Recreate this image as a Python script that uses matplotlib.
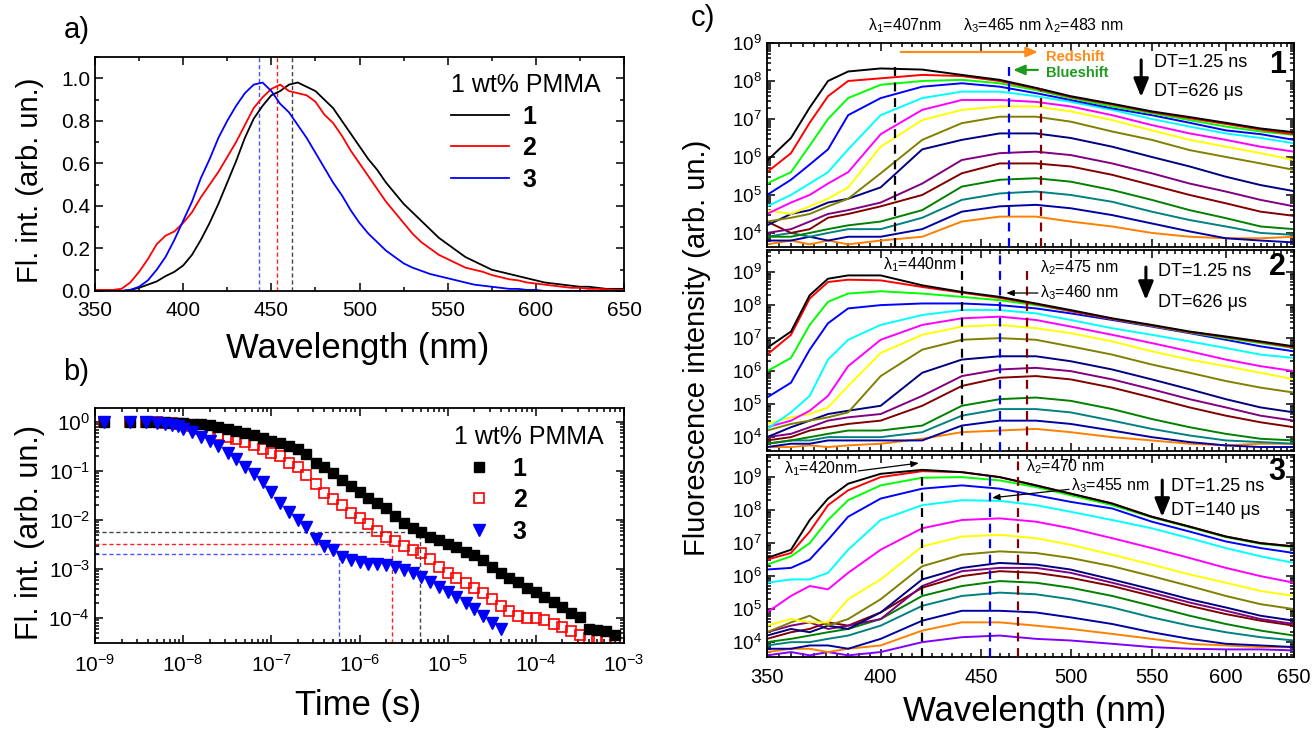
import numpy as np
import matplotlib
matplotlib.use("Agg")
import matplotlib.pyplot as plt
from matplotlib.ticker import (MultipleLocator, FormatStrFormatter, FixedLocator,
                               FixedFormatter, NullFormatter, LogLocator)

plt.rcParams['font.family'] = ['Liberation Sans', 'DejaVu Sans']
plt.rcParams['mathtext.fontset'] = 'custom'
plt.rcParams['mathtext.rm'] = 'Liberation Sans'
plt.rcParams['mathtext.it'] = 'Liberation Sans:italic'
plt.rcParams['mathtext.default'] = 'regular'
plt.rcParams['axes.linewidth'] = 1.3

# ---------------- panel a: steady-state spectra ----------------
wl_a = [350, 355, 360, 365, 370, 375, 380, 385, 390, 395, 400, 405, 410, 415, 420,
        425, 430, 435, 440, 445, 450, 455, 460, 465, 470, 475, 480, 485, 490, 495,
        500, 505, 510, 515, 520, 525, 530, 535, 540, 545, 550, 555, 560, 565, 570,
        575, 580, 585, 590, 595, 600, 605, 610, 615, 620, 625, 630, 635, 640, 645, 650]
fl_1 = [0, 0, 0, 0, 0.005, 0.015, 0.03, 0.045, 0.07, 0.09, 0.12, 0.17, 0.24, 0.32, 0.41,
        0.51, 0.61, 0.72, 0.81, 0.87, 0.92, 0.94, 0.97, 0.98, 0.96, 0.94, 0.90, 0.86, 0.80, 0.74,
        0.68, 0.62, 0.57, 0.51, 0.46, 0.41, 0.37, 0.33, 0.29, 0.25, 0.22, 0.19, 0.16, 0.14, 0.12,
        0.10, 0.09, 0.08, 0.07, 0.06, 0.05, 0.04, 0.035, 0.03, 0.025, 0.02, 0.02, 0.015, 0.01, 0.01, 0.01]
fl_2 = [0.005, 0.005, 0.005, 0.01, 0.04, 0.09, 0.15, 0.22, 0.26, 0.28, 0.32, 0.37, 0.44, 0.50, 0.56,
        0.63, 0.70, 0.78, 0.86, 0.91, 0.95, 0.97, 0.94, 0.93, 0.92, 0.89, 0.83, 0.79, 0.73, 0.66,
        0.60, 0.54, 0.48, 0.42, 0.37, 0.32, 0.27, 0.23, 0.20, 0.17, 0.15, 0.13, 0.11, 0.10, 0.09,
        0.075, 0.065, 0.055, 0.05, 0.04, 0.035, 0.03, 0.025, 0.02, 0.015, 0.015, 0.01, 0.01, 0.008, 0.005, 0.005]
fl_3 = [0, 0, 0, 0, 0.005, 0.02, 0.05, 0.10, 0.16, 0.24, 0.33, 0.42, 0.53, 0.62, 0.72,
        0.80, 0.87, 0.93, 0.97, 0.98, 0.94, 0.88, 0.84, 0.78, 0.72, 0.65, 0.58, 0.51, 0.45, 0.38,
        0.32, 0.27, 0.23, 0.19, 0.16, 0.13, 0.11, 0.095, 0.08, 0.07, 0.06, 0.05, 0.04, 0.03, 0.025,
        0.02, 0.015, 0.01, 0.01, 0.005, 0.005, 0, 0, 0, 0, 0, 0, 0, 0, 0, 0]
peak_a = [462, 453, 443]
colors_a = ['black', 'red', 'blue']
guide_a = ['#444444', '#ff2020', '#5050ff']
labels = ['1', '2', '3']

# ---------------- panel b: decays ----------------
t_b = [1.25e-9, 2.5e-9, 3.75e-9, 5e-9, 6.25e-9, 7.5e-9, 8.75e-9, 1e-8,
       1.25e-8, 1.6e-8, 2e-8, 2.5e-8, 3.2e-8, 4e-8, 5e-8, 6.3e-8, 8e-8, 1e-7,
       1.25e-7, 1.6e-7, 2e-7, 2.5e-7, 3.2e-7, 4e-7, 5e-7, 6.3e-7, 8e-7, 1e-6,
       1.25e-6, 1.6e-6, 2e-6, 2.5e-6, 3.2e-6, 4e-6, 5e-6, 6.3e-6, 8e-6, 1e-5,
       1.25e-5, 1.6e-5, 2e-5, 2.5e-5, 3.2e-5, 4e-5, 5e-5, 6.3e-5, 8e-5, 1e-4,
       1.25e-4, 1.6e-4, 2e-4, 2.5e-4, 3.2e-4, 4e-4, 5e-4, 6.3e-4, 8e-4]
dec_1 = [1.0, 1.0, 1.0, 1.0, 0.99, 0.98, 0.97, 0.96,
         0.93, 0.9, 0.86, 0.8, 0.74, 0.67, 0.6, 0.55, 0.48, 0.42,
         0.38, 0.33, 0.29, 0.22, 0.15, 0.12, 0.09, 0.065, 0.05, 0.037,
         0.028, 0.022, 0.018, 0.012, 0.0088, 0.0068, 0.0058, 0.0045, 0.0039, 0.0032,
         0.0028, 0.0022, 0.0019, 0.0015, 0.0011, 0.00085, 0.00066, 0.00055, 0.00042, 0.00034,
         0.00027, 0.00021, 0.00017, 0.00013, 0.000105, 6e-5, 5.8e-5, 5.5e-5, 4.5e-5]
dec_2 = [1.0, 1.0, 1.0, 0.99, 0.98, 0.96, 0.94, 0.92,
         0.83, 0.72, 0.63, 0.56, 0.5, 0.45, 0.4, 0.34, 0.29, 0.24,
         0.2, 0.15, 0.12, 0.085, 0.055, 0.036, 0.027, 0.02, 0.014, 0.011,
         0.0085, 0.006, 0.0045, 0.0038, 0.003, 0.0025, 0.0021, 0.0016, 0.0011, 0.00085,
         0.00067, 0.00052, 0.00042, 0.00033, 0.00024, 0.00018, 0.00014, 0.00011, 0.0001, 0.0001,
         9e-5, 7.5e-5, 6.5e-5, 5.5e-5, 4.5e-5, 4e-5, 3.8e-5, 3.7e-5, 3.6e-5]
dec_3 = [1.0, 1.0, 1.0, 0.95, 0.92, 0.87, 0.82, 0.73,
         0.62, 0.51, 0.41, 0.32, 0.24, 0.18, 0.12, 0.088, 0.06, 0.038,
         0.022, 0.015, 0.01, 0.0072, 0.0041, 0.003, 0.0024, 0.0018, 0.0015, 0.0014,
         0.0013, 0.0013, 0.0012, 0.0011, 0.00095, 0.00082, 0.00068, 0.00055, 0.00043, 0.00034,
         0.00027, 0.0002, 0.00015, 0.00011, 8e-5, 6e-5] + [np.nan] * 13
tau_t = [4.9e-6, 2.35e-6, 5.9e-7]
tau_level = [5.7e-3, 3.2e-3, 2.0e-3]

# ---------------- panel c: time-resolved spectra (log10 intensity) ----------------
wl_c = [350, 360, 368, 376, 385, 400, 420, 440, 460, 480, 500, 525, 550, 575, 600, 625, 650]
colors_c = ['#000000', '#FF0000', '#00FF00', '#0000FF', '#00FFFF', '#FF00FF', '#FFFF00',
            '#808000', '#000080', '#800080', '#800000', '#008000', '#008080', '#0000A0',
            '#FF8000', '#8000FF']
spec_1 = [
    [5.9, 6.5, 7.3, 8.0, 8.25, 8.33, 8.3, 8.16, 8.03, 7.82, 7.6, 7.4, 7.2, 7.05, 6.9, 6.75, 6.65],
    [5.6, 6.1, 6.9, 7.6, 8.0, 8.07, 8.16, 8.13, 8.0, 7.8, 7.58, 7.38, 7.18, 7.02, 6.87, 6.72, 6.6],
    [5.3, 5.6, 6.3, 7.0, 7.55, 7.9, 8.0, 8.03, 7.94, 7.76, 7.55, 7.33, 7.15, 6.97, 6.8, 6.67, 6.58],
    [5.0, 5.4, 5.8, 6.2, 7.1, 7.55, 7.85, 7.94, 7.85, 7.68, 7.5, 7.28, 7.1, 6.9, 6.7, 6.6, 6.45],
    [4.7, 5.0, 5.3, 5.6, 6.2, 7.1, 7.55, 7.72, 7.72, 7.6, 7.45, 7.24, 7.0, 6.8, 6.62, 6.5, 6.36],
    [4.5, 4.8, 5.0, 5.3, 5.6, 6.6, 7.24, 7.5, 7.5, 7.45, 7.33, 7.1, 6.84, 6.62, 6.45, 6.27, 6.14],
    [4.6, 4.5, 4.7, 4.9, 5.2, 6.27, 6.97, 7.24, 7.33, 7.33, 7.2, 6.97, 6.7, 6.45, 6.27, 6.1, 5.92],
    [4.3, 4.4, 4.5, 4.7, 4.9, 5.57, 6.45, 6.89, 7.06, 7.06, 6.93, 6.67, 6.45, 6.18, 6.0, 5.83, 5.66],
    [4.2, 4.5, 4.6, 4.8, 4.9, 5.2, 6.2, 6.45, 6.62, 6.62, 6.5, 6.27, 6.0, 5.75, 5.48, 5.26, 5.1],
    [4.0, 4.1, 4.3, 4.5, 4.6, 4.8, 5.3, 5.92, 6.1, 6.14, 6.05, 5.83, 5.57, 5.3, 5.09, 4.87, 4.7],
    [4.3, 4.0, 4.1, 4.4, 4.5, 4.7, 5.0, 5.57, 5.83, 5.83, 5.75, 5.53, 5.26, 5.0, 4.78, 4.56, 4.45],
    [3.9, 3.9, 4.0, 4.1, 4.2, 4.3, 4.6, 5.22, 5.4, 5.44, 5.35, 5.13, 4.87, 4.6, 4.39, 4.17, 4.1],
    [3.9, 4.0, 3.9, 4.0, 4.1, 4.1, 4.4, 4.87, 5.04, 5.09, 5.0, 4.82, 4.56, 4.34, 4.17, 4.0, 3.95],
    [3.8, 3.8, 3.9, 3.8, 3.9, 3.9, 4.1, 4.56, 4.7, 4.74, 4.65, 4.47, 4.25, 4.04, 3.86, 3.8, 3.75],
    [3.7, 3.8, 3.7, 3.8, 3.7, 3.8, 3.9, 4.3, 4.43, 4.43, 4.3, 4.17, 4.0, 3.9, 3.86, 3.86, 3.9],
]
spec_2 = [
    [6.7, 7.2, 8.3, 8.8, 8.9, 8.9, 8.6, 8.4, 8.25, 8.05, 7.85, 7.6, 7.4, 7.2, 7.05, 6.9, 6.75],
    [6.5, 7.1, 8.2, 8.7, 8.77, 8.75, 8.55, 8.38, 8.22, 8.03, 7.82, 7.58, 7.38, 7.18, 7.03, 6.88, 6.72],
    [6.0, 6.4, 7.4, 8.1, 8.35, 8.42, 8.35, 8.25, 8.15, 8.0, 7.82, 7.58, 7.37, 7.17, 7.0, 6.85, 6.7],
    [5.2, 5.65, 6.65, 7.45, 7.9, 8.0, 8.05, 8.05, 8.0, 7.9, 7.75, 7.55, 7.35, 7.15, 6.95, 6.75, 6.6],
    [4.25, 4.75, 5.25, 6.35, 6.95, 7.4, 7.7, 7.85, 7.85, 7.75, 7.55, 7.3, 7.1, 6.9, 6.7, 6.5, 6.4],
    [4.3, 4.5, 4.8, 5.25, 6.15, 6.95, 7.4, 7.6, 7.65, 7.55, 7.35, 7.1, 6.85, 6.6, 6.35, 6.15, 6.0],
    [4.4, 4.6, 4.7, 4.9, 5.55, 6.55, 7.1, 7.35, 7.4, 7.3, 7.15, 6.9, 6.6, 6.35, 6.15, 5.95, 5.75],
    [4.2, 4.4, 4.5, 4.6, 4.75, 5.85, 6.65, 6.95, 7.0, 6.95, 6.75, 6.5, 6.2, 5.95, 5.7, 5.5, 5.35],
    [4.0, 4.3, 4.5, 4.7, 4.8, 4.95, 5.95, 6.35, 6.45, 6.45, 6.3, 6.05, 5.75, 5.45, 5.15, 4.9, 4.75],
    [4.0, 4.1, 4.3, 4.5, 4.6, 4.7, 5.25, 5.85, 6.05, 6.1, 6.0, 5.75, 5.45, 5.15, 4.9, 4.65, 4.5],
    [3.9, 4.0, 4.2, 4.3, 4.4, 4.5, 4.95, 5.55, 5.8, 5.85, 5.75, 5.5, 5.2, 4.9, 4.65, 4.45, 4.3],
    [3.8, 3.9, 4.0, 4.1, 4.2, 4.2, 4.35, 4.95, 5.15, 5.2, 5.1, 4.85, 4.55, 4.3, 4.1, 3.95, 3.9],
    [3.8, 3.9, 3.9, 4.0, 4.0, 4.0, 4.15, 4.65, 4.85, 4.85, 4.75, 4.5, 4.25, 4.05, 3.9, 3.85, 3.8],
    [3.7, 3.8, 3.8, 3.9, 3.9, 3.9, 3.9, 4.35, 4.5, 4.5, 4.4, 4.2, 4.0, 3.85, 3.75, 3.7, 3.7],
    [3.7, 3.7, 3.75, 3.7, 3.75, 3.8, 3.95, 4.15, 4.2, 4.25, 4.15, 4.0, 3.9, 3.8, 3.75, 3.8, 3.8],
]
spec_3 = [
    [6.55, 6.8, 7.7, 8.35, 8.8, 9.1, 9.22, 9.15, 9.0, 8.75, 8.5, 8.2, 7.8, 7.5, 7.2, 7.0, 6.9],
    [6.5, 6.7, 7.35, 8.15, 8.6, 9.0, 9.18, 9.15, 9.0, 8.75, 8.5, 8.2, 7.8, 7.5, 7.2, 7.0, 6.9],
    [6.35, 6.6, 7.0, 7.7, 8.3, 8.75, 8.98, 9.0, 8.9, 8.7, 8.45, 8.15, 7.78, 7.48, 7.18, 6.98, 6.88],
    [6.2, 6.25, 6.5, 7.1, 7.8, 8.35, 8.65, 8.75, 8.65, 8.45, 8.25, 8.05, 7.65, 7.35, 7.05, 6.85, 6.7],
    [5.8, 5.9, 5.9, 6.1, 6.8, 7.7, 8.15, 8.3, 8.28, 8.15, 7.95, 7.7, 7.45, 7.15, 6.85, 6.6, 6.4],
    [4.9, 5.4, 5.7, 5.6, 6.1, 6.8, 7.45, 7.7, 7.75, 7.65, 7.45, 7.15, 6.85, 6.55, 6.25, 6.0, 5.8],
    [4.5, 4.7, 4.6, 4.6, 5.3, 5.9, 6.9, 7.2, 7.25, 7.15, 6.95, 6.65, 6.35, 6.05, 5.8, 5.55, 5.4],
    [4.3, 4.6, 4.8, 4.5, 4.7, 5.3, 6.3, 6.65, 6.75, 6.7, 6.55, 6.3, 6.0, 5.7, 5.4, 5.15, 5.0],
    [4.2, 4.4, 4.3, 4.5, 4.4, 4.9, 5.9, 6.25, 6.4, 6.35, 6.2, 5.9, 5.6, 5.3, 5.05, 4.8, 4.65],
    [4.3, 4.5, 4.6, 4.4, 4.5, 4.7, 5.7, 6.15, 6.25, 6.25, 6.1, 5.8, 5.5, 5.2, 4.95, 4.7, 4.55],
    [4.1, 4.3, 4.4, 4.6, 4.5, 4.9, 5.65, 6.0, 6.15, 6.1, 5.95, 5.7, 5.4, 5.1, 4.85, 4.65, 4.5],
    [4.0, 4.1, 4.2, 4.3, 4.4, 4.7, 5.4, 5.7, 5.85, 5.8, 5.65, 5.4, 5.1, 4.8, 4.55, 4.35, 4.2],
    [3.9, 4.0, 4.0, 4.1, 4.2, 4.5, 5.1, 5.4, 5.5, 5.45, 5.3, 5.05, 4.75, 4.5, 4.3, 4.15, 4.05],
    [3.8, 3.8, 3.9, 3.9, 3.8, 4.1, 4.65, 4.95, 4.95, 4.9, 4.75, 4.55, 4.3, 4.1, 3.95, 3.9, 3.85],
    [3.7, 3.8, 3.8, 3.7, 3.8, 3.9, 4.35, 4.6, 4.6, 4.5, 4.4, 4.25, 4.1, 3.95, 3.9, 3.85, 3.85],
    [3.6, 3.7, 3.6, 3.7, 3.6, 3.7, 4.0, 4.15, 4.2, 4.1, 4.05, 3.95, 3.85, 3.8, 3.78, 3.78, 3.75],
]
lambda_c = [[407, 465, 483], [440, 460, 475], [420, 455, 470]]
guide_top_c = [[0.90, 0.90, 0.78], [0.98, 0.98, 0.90], [0.91, 0.91, 0.99]]
guide_colors_c = ['black', '#0000FF', '#800000']
dt_last = ['626', '626', '140']

TICK = 13.5


def style_ticks(ax, size=TICK):
    ax.tick_params(which='both', direction='in', top=True, right=True, labelsize=size, width=1.1)
    ax.tick_params(which='major', length=6)
    ax.tick_params(which='minor', length=3)


def decade_ticks(axis, lo, hi):
    # major ticks only on the decades inside the view, minors at 2..9
    axis.set_major_locator(FixedLocator([10.0 ** e for e in range(lo, hi + 1)]))
    axis.set_minor_locator(LogLocator(base=10, subs=np.arange(2, 10), numticks=30))
    axis.set_minor_formatter(NullFormatter())


fig = plt.figure(figsize=(13.12, 7.31), dpi=100)
W, H = 1312.0, 731.0


def px_axes(left, top, right, bottom):
    return fig.add_axes([left / W, 1 - bottom / H, (right - left) / W, (bottom - top) / H])


# ---- panel a ----
ax_a = px_axes(95, 57, 624, 291)
for i in range(3):
    ax_a.axvline(peak_a[i], color=guide_a[i], ls=(0, (3, 2)), lw=1.0, zorder=1)
fl_all = [fl_1, fl_2, fl_3]
handles = []
for i in range(3):
    h, = ax_a.plot(wl_a, fl_all[i], color=colors_a[i], lw=1.3, zorder=2)
    handles.append(h)
ax_a.set_xlim(350, 650)
ax_a.set_ylim(0, 1.1)
ax_a.xaxis.set_major_locator(MultipleLocator(50))
ax_a.xaxis.set_minor_locator(MultipleLocator(25))
ax_a.yaxis.set_major_locator(FixedLocator([0, 0.2, 0.4, 0.6, 0.8, 1.0]))
ax_a.yaxis.set_minor_locator(MultipleLocator(0.1))
ax_a.yaxis.set_major_formatter(FormatStrFormatter('%.1f'))
style_ticks(ax_a, 15)
ax_a.tick_params(axis='x', pad=7)
ax_a.legend(handles, labels, title='1 wt% PMMA', loc='upper left',
            bbox_to_anchor=(0.65, 0.985), frameon=False, borderpad=0,
            prop={'weight': 'bold', 'size': 18}, title_fontsize=18,
            handlelength=2.3, handletextpad=0.55, labelspacing=0.3,
            alignment='left')
fig.text(77 / W, 1 - 30 / H, 'a)', fontsize=21, ha='center', va='center')
fig.text(30 / W, 1 - 180 / H, 'Fl. int. (arb. un.)', fontsize=21, rotation=90,
         ha='center', va='center')
fig.text(358 / W, 1 - 348 / H, 'Wavelength (nm)', fontsize=25, ha='center', va='center')

# ---- panel b ----
ax_b = px_axes(95, 408, 624, 643)
ax_b.set_xscale('log')
ax_b.set_yscale('log')
ax_b.set_xlim(1e-9, 1e-3)
ax_b.set_ylim(3.1e-5, 1.95)
for i in range(3):
    ax_b.hlines(tau_level[i], 1e-9, tau_t[i], colors=guide_a[i], linestyles=(0, (3, 2)), lw=1.0, zorder=1)
    ax_b.vlines(tau_t[i], 3.1e-5, tau_level[i], colors=guide_a[i], linestyles=(0, (3, 2)), lw=1.0, zorder=1)
h1, = ax_b.plot(t_b, dec_1, ls='none', marker='s', ms=7.5, color='black', zorder=3)
h2, = ax_b.plot(t_b, dec_2, ls='none', marker='s', ms=7.5, mfc='none', mec='red', mew=1.2, zorder=2)
h3, = ax_b.plot(t_b, dec_3, ls='none', marker='v', ms=9, color='blue', zorder=4)
decade_ticks(ax_b.xaxis, -9, -3)
decade_ticks(ax_b.yaxis, -4, 0)
style_ticks(ax_b, 15)
ax_b.tick_params(axis='x', pad=8)
ax_b.legend([h1, h2, h3], labels, title='1 wt% PMMA', loc='upper left',
            bbox_to_anchor=(0.655, 0.98), frameon=False, borderpad=0,
            prop={'weight': 'bold', 'size': 18}, title_fontsize=18,
            handlelength=2.0, handletextpad=0.35, labelspacing=0.3,
            alignment='left')
fig.text(76 / W, 1 - 372 / H, 'b)', fontsize=21, ha='center', va='center')
fig.text(30 / W, 1 - 532 / H, 'Fl. int. (arb. un.)', fontsize=22, rotation=90,
         ha='center', va='center')
fig.text(358 / W, 1 - 706 / H, 'Time (s)', fontsize=25, ha='center', va='center')

# ---- panel c ----
c_boxes = [(43, 247), (250, 451), (455, 657)]
c_ylims = [(10 ** 3.63, 1e9), (10 ** 3.58, 10 ** 9.67), (10 ** 3.55, 10 ** 9.67)]
specs = [spec_1, spec_2, spec_3]
axes_c = []
for k in range(3):
    ax = px_axes(767, c_boxes[k][0], 1294, c_boxes[k][1])
    ax.set_xscale('log')
    ax.set_yscale('log')
    rows = specs[k]
    for j in range(len(rows) - 1, -1, -1):
        ax.plot(wl_c, [10 ** v for v in rows[j]], color=colors_c[j], lw=1.4, zorder=2)
    for g in range(3):
        ax.axvline(lambda_c[k][g], ymax=guide_top_c[k][g], color=guide_colors_c[g],
                   ls=(0, (4, 3)), lw=1.6, zorder=3)
    ax.set_xlim(350, 650)
    ax.set_ylim(*c_ylims[k])
    ax.xaxis.set_major_locator(FixedLocator([350, 400, 450, 500, 550, 600, 650]))
    ax.xaxis.set_major_formatter(FixedFormatter(['350', '400', '450', '500', '550', '600', '650']))
    ax.xaxis.set_minor_locator(FixedLocator(np.arange(355, 650, 5)))
    ax.xaxis.set_minor_formatter(NullFormatter())
    decade_ticks(ax.yaxis, 4, 9)
    style_ticks(ax)
    if k < 2:
        ax.tick_params(axis='x', labelbottom=False)
    else:
        ax.tick_params(axis='x', pad=8, labelsize=14.5)
    axes_c.append(ax)


def arrow(ax, tail, head, color='black', lw=1.0, style='-|>,head_width=0.25,head_length=0.5'):
    ax.annotate('', xy=head, xytext=tail, xycoords='axes fraction', textcoords='axes fraction',
                arrowprops=dict(arrowstyle=style, color=color, lw=lw, shrinkA=0, shrinkB=0))


small = 11.5
ax1, ax2, ax3 = axes_c
# subpanel 1
ax1.text(0.262, 1.083, r'λ$_1$=407nm', transform=ax1.transAxes, fontsize=small, ha='center', va='center')
ax1.text(0.524, 1.083, r'λ$_3$=465 nm λ$_2$=483 nm', transform=ax1.transAxes, fontsize=small,
         ha='center', va='center')
arrow(ax1, (0.254, 0.956), (0.514, 0.956), color='#FF8C1A', lw=1.6, style='-|>,head_width=0.3,head_length=0.7')
ax1.text(0.529, 0.931, 'Redshift', transform=ax1.transAxes, fontsize=10.5, color='#FF8C1A',
         fontweight='bold', ha='left', va='center')
arrow(ax1, (0.514, 0.868), (0.467, 0.868), color='#1E9A1E', lw=1.6, style='-|>,head_width=0.3,head_length=0.7')
ax1.text(0.529, 0.853, 'Blueshift', transform=ax1.transAxes, fontsize=10.5, color='#1E9A1E',
         fontweight='bold', ha='left', va='center')

for ax, num, dy, ar_x, ar_y, tx, ty1, ty2 in [
        (ax1, '1', 0.892, 0.710, (0.917, 0.735), 0.734, 0.902, 0.760),
        (ax2, '2', 0.915, 0.719, (0.915, 0.751), 0.742, 0.891, 0.741),
        (ax3, '3', 0.916, 0.750, (0.876, 0.693), 0.767, 0.842, 0.723)]:
    arrow(ax, (ar_x, ar_y[0]), (ar_x, ar_y[1]), lw=2.2, style='-|>,head_width=0.45,head_length=1.1')
    ax.text(tx, ty1, 'DT=1.25 ns', transform=ax.transAxes, fontsize=13, ha='left', va='center')
    ax.text(tx, ty2, 'DT=' + dt_last[int(num) - 1] + ' μs', transform=ax.transAxes, fontsize=13,
            ha='left', va='center')
    ax.text(0.968, dy, num, transform=ax.transAxes, fontsize=22, fontweight='bold',
            ha='center', va='center')

# subpanel 2
ax2.text(0.290, 0.925, r'λ$_1$=440nm', transform=ax2.transAxes, fontsize=small, ha='center', va='center')
ax2.text(0.518, 0.910, r'λ$_2$=475 nm', transform=ax2.transAxes, fontsize=small, ha='left', va='center')
ax2.text(0.518, 0.786, r'λ$_3$=460 nm', transform=ax2.transAxes, fontsize=small, ha='left', va='center')
arrow(ax2, (0.514, 0.786), (0.454, 0.786), lw=0.9, style='-|>,head_width=0.18,head_length=0.45')
# subpanel 3
ax3.text(0.032, 0.931, r'λ$_1$=420nm', transform=ax3.transAxes, fontsize=small, ha='left', va='center')
arrow(ax3, (0.173, 0.921), (0.288, 0.960), lw=0.9, style='-|>,head_width=0.18,head_length=0.45')
ax3.text(0.491, 0.942, r'λ$_2$=470 nm', transform=ax3.transAxes, fontsize=small, ha='left', va='center')
ax3.text(0.577, 0.846, r'λ$_3$=455 nm', transform=ax3.transAxes, fontsize=small, ha='left', va='center')
arrow(ax3, (0.573, 0.830), (0.427, 0.788), lw=0.9, style='-|>,head_width=0.18,head_length=0.45')

fig.text(703 / W, 1 - 18 / H, 'c)', fontsize=21, ha='center', va='center')
fig.text(697 / W, 1 - 348 / H, 'Fluorescence intensity (arb. un.)', fontsize=21, rotation=90,
         ha='center', va='center')
fig.text(1035 / W, 1 - 712 / H, 'Wavelength (nm)', fontsize=25, ha='center', va='center')

fig.savefig('out.png', dpi=100)
